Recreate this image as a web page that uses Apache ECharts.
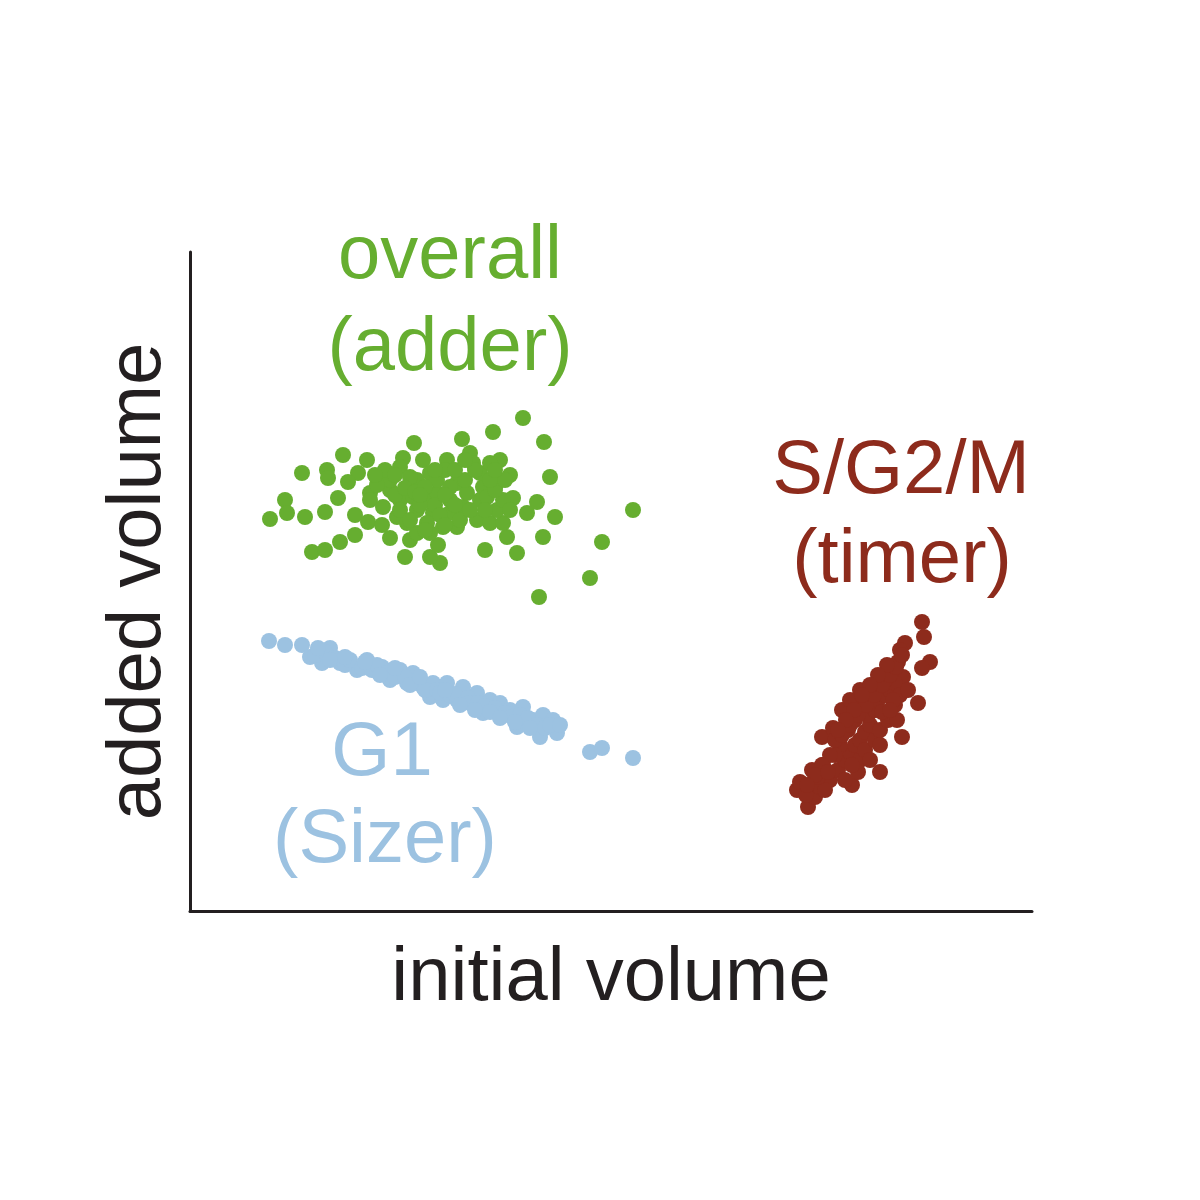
<!DOCTYPE html>
<html>
<head>
<meta charset="utf-8">
<script src="https://cdn.jsdelivr.net/npm/echarts@6/dist/echarts.min.js"></script>
<style>html,body{margin:0;padding:0;background:#fff}#c{width:1200px;height:1200px}</style>
</head>
<body>
<div id="c"></div>
<script>
// arbitrary units
const overallAdder = [
[333,493],[303,479],[272,472],[224,468],[354,469],[153,456],[112,438],[137,441],[138,433],[177,451],
[168,438],[158,429],[280,458],[310,451],[320,436],[360,434],[95,411],[97,398],[80,392],[115,394],
[135,399],[148,413],[165,396],[178,389],[192,386],[443,401],[365,394],[347,409],[337,398],[323,413],
[353,374],[412,369],[400,333],[349,314],[327,358],[295,361],[317,374],[250,348],[240,354],[215,354],
[200,373],[220,371],[248,366],[122,359],[135,361],[150,369],[165,376],
[213,453],[233,451],[257,451],[210,444],[190,431],[180,418],[180,411],[200,421],[210,411],[223,414],
[237,411],[247,418],[260,411],[267,428],[273,404],[260,398],[243,398],[227,401],[207,394],[217,388],
[237,388],[253,384],[267,384],[287,391],[300,388],[313,388],[307,401],[290,411],[293,424],[307,428],
[290,438],[300,448],[283,448],[240,438],[227,431],[247,431],[200,431],[220,434],[193,404],[240,378],
[227,378],[260,424],[277,418],[297,414],[313,411],[187,426],[230,406],[255,441],[270,391],
[205,416],[215,423],[225,419],[235,424],[245,406],[255,416],[265,406],[275,431],[280,401],[285,441],
[295,401],[305,421],[315,431],[195,441],[205,436],[210,401],[220,391],[230,416],[250,396],[265,441],
[275,451],[300,431],[320,401],[185,436],[245,441],[255,386],[235,381],[305,441]
];
const g1Sizer = [
[79,270],[95,266],[112,266],[120,254],[140,263],[132,248],[150,248],[167,241],[177,251],[192,244],
[200,231],[210,241],[223,238],[217,228],[233,224],[243,228],[257,228],[240,214],[253,211],[267,211],
[273,224],[287,218],[293,198],[300,211],[310,208],[320,201],[333,204],[327,184],[343,191],[353,196],
[363,191],[367,178],[350,174],[400,159],[412,163],[443,153],
[125,256],[135,259],[145,253],[155,246],[160,251],[172,243],[182,241],[187,246],[197,238],[205,234],
[215,234],[228,228],[235,221],[247,221],[250,218],[260,216],[265,217],[278,213],[280,208],[288,208],
[295,205],[305,203],[315,198],[322,194],[330,196],[338,193],[347,186],[355,183],
[128,263],[140,251],[155,254],[175,249],[190,236],[205,243],[220,226],[230,234],[255,221],[270,206],
[285,201],[300,199],[310,193],[325,189],[340,183],[360,186],[370,186]
];
const sg2mTimer = [
[732,289],[734,274],[715,268],[740,249],[732,243],[708,249],[700,241],[713,234],[690,231],[728,208],
[712,174],[690,139],[662,126],[632,174],[643,183],[652,201],[607,121],[618,104],[622,141],[633,146],
[625,114],[610,129],[630,124],[616,116],
[640,131],[648,141],[655,151],[660,159],[665,166],[670,171],[675,179],[680,186],[678,196],[685,201],
[688,211],[695,216],[700,221],[705,228],[695,231],[682,221],[672,206],[665,191],[658,181],[650,166],
[645,156],[670,151],[675,161],[685,171],[690,181],[698,191],[705,206],[710,216],[703,211],[692,199],
[680,151],[668,139],[655,131],[635,121],[628,134],[710,261],[718,221],[707,191],[660,211],[670,221],
[645,171],[652,176],[660,186],[668,196],[676,206],[684,216],[692,226],[700,236],[706,244],[712,256],
[697,246],[688,236],[680,226],[672,216],[664,201],[656,191],[648,181],[640,156],[632,146],[625,136],
[617,126],[638,139],[662,146],[690,166],[700,201]
];
const xRange = [0, 842];
const yRange = [0, 659];
const xTitle = 'initial volume';
const yTitle = 'added volume';

const GREEN = '#66ae30', BLUE = '#9cc2e1', RED = '#8d2b1c', INK = '#231f20';
const FONT = 'Liberation Sans, Arial, Helvetica, sans-serif';

const chart = echarts.init(document.getElementById('c'));
function lbl(text, x, y, color) {
  return { type: 'text', x: x, y: y, style: { text: text, fill: color, font: '76px ' + FONT, textAlign: 'center', textVerticalAlign: 'middle' } };
}
chart.setOption({
  animation: false,
  backgroundColor: '#fff',
  grid: { left: 190, right: 168, top: 252, bottom: 289, containLabel: false },
  xAxis: {
    type: 'value', min: xRange[0], max: xRange[1],
    name: xTitle, nameLocation: 'middle', nameGap: 30,
    nameTextStyle: { fontSize: 76, color: INK, fontFamily: FONT },
    axisLine: { show: true, lineStyle: { color: INK, width: 3 } },
    axisTick: { show: false }, axisLabel: { show: false }, splitLine: { show: false }
  },
  yAxis: {
    type: 'value', min: yRange[0], max: yRange[1],
    name: yTitle, nameLocation: 'middle', nameGap: 13, nameRotate: 90,
    nameTextStyle: { fontSize: 76, color: INK, fontFamily: FONT },
    axisLine: { show: true, lineStyle: { color: INK, width: 3 } },
    axisTick: { show: false }, axisLabel: { show: false }, splitLine: { show: false }
  },
  series: [
    { name: 'overall (adder)', type: 'scatter', data: overallAdder, symbolSize: 16, itemStyle: { color: GREEN, opacity: 1 } },
    { name: 'G1 (Sizer)', type: 'scatter', data: g1Sizer, symbolSize: 16, itemStyle: { color: BLUE, opacity: 1 } },
    { name: 'S/G2/M (timer)', type: 'scatter', data: sg2mTimer, symbolSize: 16, itemStyle: { color: RED, opacity: 1 } }
  ],
  graphic: [
    lbl('overall', 450, 257, GREEN),
    lbl('(adder)', 450, 349, GREEN),
    lbl('S/G2/M', 901, 472, RED),
    lbl('(timer)', 902, 561, RED),
    lbl('G1', 382, 754, BLUE),
    lbl('(Sizer)', 385, 841, BLUE)
  ]
});
</script>
</body>
</html>
